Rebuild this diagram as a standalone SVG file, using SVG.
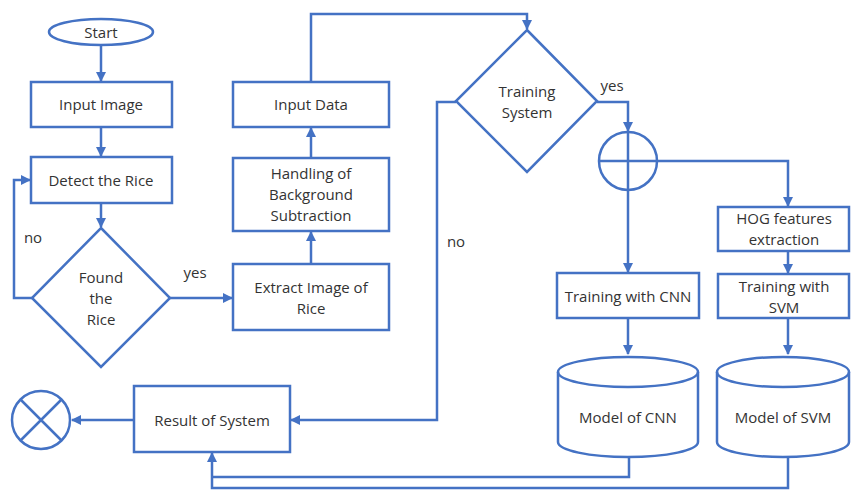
<svg xmlns="http://www.w3.org/2000/svg" width="851" height="491" viewBox="0 0 851 491">
<defs>
<marker id="ah" viewBox="0 0 10 10" refX="9" refY="5" markerWidth="4" markerHeight="4" orient="auto" markerUnits="strokeWidth">
<path d="M0,0 L10,5 L0,10 z" fill="#4472C4"/>
</marker>
<style>
.s{fill:#fff;stroke:#4472C4;stroke-width:2.5}
.c{fill:none;stroke:#4472C4;stroke-width:2.5}
.a{fill:none;stroke:#4472C4;stroke-width:2.5;marker-end:url(#ah)}
text{font-family:"Open Sans","Liberation Sans",sans-serif;font-size:15px;fill:#333;text-anchor:middle;dominant-baseline:central}
</style>
</defs>
<rect width="851" height="491" fill="#fff"/>
<g id="connectors">
<path class="a" d="M101,45 V81"/>
<path class="a" d="M101,127 V156"/>
<path class="a" d="M101,203 V227"/>
<path class="a" d="M32,298 H14 V180 H30"/>
<path class="a" d="M170,298 H232"/>
<path class="a" d="M311,264 V232"/>
<path class="a" d="M311,158 V128"/>
<path class="a" d="M311,82 V14 H527 V29"/>
<path class="a" d="M597,102 H628 V131"/>
<path class="a" d="M628,191 V272"/>
<path class="a" d="M658,161 H788 V206"/>
<path class="a" d="M788,251 V273"/>
<path class="a" d="M628,318 V354"/>
<path class="a" d="M788,318 V354"/>
<path class="a" d="M456,102 H437 V420 H291"/>
<path class="a" d="M134,420 H72"/>
<path class="c" d="M629,458 V477 H212"/>
<path class="a" d="M788,458 V488 H212 V453"/>
</g>
<g id="start"><ellipse class="s" cx="101" cy="32" rx="52" ry="13"/><text x="101" y="32">Start</text></g>
<g id="input-image"><rect class="s" x="31" y="82" width="141" height="45"/><text x="101" y="104">Input Image</text></g>
<g id="detect"><rect class="s" x="31" y="157" width="141" height="46"/><text x="101" y="180">Detect the Rice</text></g>
<g id="found"><polygon class="s" points="101,228 170,298 101,367 32,298"/><text x="101" y="277">Found</text><text x="101" y="298">the</text><text x="101" y="319">Rice</text></g>
<g id="extract"><rect class="s" x="233" y="264" width="156" height="66"/><text x="311" y="287">Extract Image of</text><text x="311" y="308">Rice</text></g>
<g id="handling"><rect class="s" x="233" y="158" width="156" height="73"/><text x="311" y="173">Handling of</text><text x="311" y="194">Background</text><text x="311" y="215">Subtraction</text></g>
<g id="input-data"><rect class="s" x="233" y="82" width="156" height="45"/><text x="311" y="104">Input Data</text></g>
<g id="training-system"><polygon class="s" points="527,30 597,101 527,172 456,101"/><text x="527" y="91">Training</text><text x="527" y="112">System</text></g>
<g id="junction"><circle class="s" cx="628" cy="161" r="29"/><path class="c" d="M628,132 V190 M599,161 H657"/></g>
<g id="hog"><rect class="s" x="718" y="207" width="131" height="44"/><text x="784" y="218">HOG features</text><text x="784" y="239">extraction</text></g>
<g id="train-cnn"><rect class="s" x="557" y="273" width="142" height="45"/><text x="628" y="296">Training with CNN</text></g>
<g id="train-svm"><rect class="s" x="718" y="274" width="131" height="44"/><text x="784" y="286">Training with</text><text x="784" y="307">SVM</text></g>
<g id="model-cnn"><path class="s" d="M558,372 V442 A70,15 0 0 0 698,442 V372 A70,15 0 0 0 558,372 Z"/><path class="c" d="M558,372 A70,15 0 0 0 698,372"/><text x="628" y="417">Model of CNN</text></g>
<g id="model-svm"><path class="s" d="M717,372 V442 A66,15 0 0 0 849,442 V372 A66,15 0 0 0 717,372 Z"/><path class="c" d="M717,372 A66,15 0 0 0 849,372"/><text x="783" y="417">Model of SVM</text></g>
<g id="result"><rect class="s" x="134" y="386" width="156" height="66"/><text x="212" y="420">Result of System</text></g>
<g id="end"><circle class="s" cx="41" cy="420" r="29"/><path class="c" d="M20.5,399.5 L61.5,440.5 M61.5,399.5 L20.5,440.5"/></g>
<g id="labels"><text x="33" y="237">no</text><text x="195" y="272">yes</text><text x="612" y="85">yes</text><text x="456" y="241">no</text></g>
</svg>
